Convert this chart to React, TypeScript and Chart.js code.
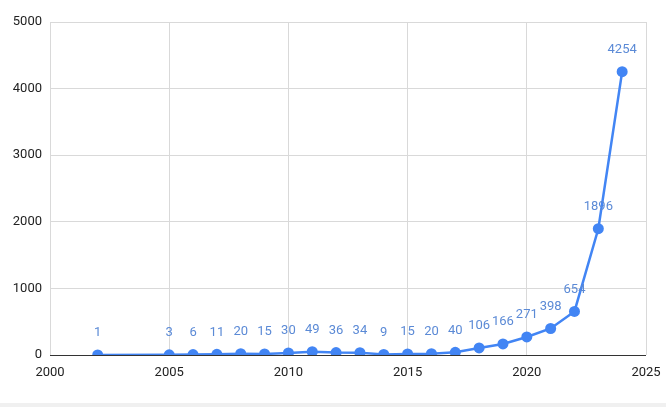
import React, { useEffect, useRef } from "react";
import { Chart, registerables } from "chart.js";

Chart.register(...registerables);

const years = [2002, 2005, 2006, 2007, 2008, 2009, 2010, 2011, 2012, 2013, 2014, 2015, 2016, 2017, 2018, 2019, 2020, 2021, 2022, 2023, 2024];
const counts = [1, 3, 6, 11, 20, 15, 30, 49, 36, 34, 9, 15, 20, 40, 106, 166, 271, 398, 654, 1896, 4254];
const xTicks = [2000, 2005, 2010, 2015, 2020, 2025];
const yTicks = [0, 1000, 2000, 3000, 4000, 5000];

const FONT = "Roboto, Arial, sans-serif";
const BLUE = "#4285f4";
const LABEL_BLUE = "#5b8ad6";

const dataLabels = {
  id: "dataLabels",
  afterDatasetsDraw(chart: any) {
    const ctx = chart.ctx;
    const meta = chart.getDatasetMeta(0);
    ctx.save();
    ctx.font = `13px ${FONT}`;
    ctx.fillStyle = LABEL_BLUE;
    ctx.textAlign = "center";
    ctx.textBaseline = "middle";
    meta.data.forEach((pt: any, i: number) => {
      ctx.fillText(String(counts[i]), pt.x, pt.y - 22);
    });
    ctx.restore();
  },
};

export default function App() {
  const ref = useRef<HTMLCanvasElement>(null);
  useEffect(() => {
    if (!ref.current) return;
    const chart = new Chart(ref.current, {
      type: "line",
      data: {
        datasets: [
          {
            data: years.map((y, i) => ({ x: y, y: counts[i] })),
            borderColor: BLUE,
            backgroundColor: BLUE,
            borderWidth: 2.5,
            pointRadius: 5.5,
            pointHoverRadius: 5.5,
            pointBorderWidth: 0,
            tension: 0,
          },
        ],
      },
      options: {
        responsive: false,
        animation: false,
        layout: { padding: { top: 22, right: 20, left: 0, bottom: 0 } },
        plugins: { legend: { display: false }, tooltip: { enabled: false } },
        scales: {
          x: {
            type: "linear",
            min: 2000,
            max: 2025,
            afterBuildTicks: (s: any) => {
              s.ticks = xTicks.map((v) => ({ value: v }));
            },
            afterFit: (s: any) => {
              s.height = 48;
              s.paddingLeft = 0;
              s.paddingRight = 0;
            },
            ticks: {
              font: { family: FONT, size: 13 },
              color: "#222",
              padding: 10,
              maxRotation: 0,
              callback: (v: any) => String(v),
            },
            grid: {
              color: "#d9d9d9",
              drawTicks: false,
            },
            border: { display: false },
          },
          y: {
            min: 0,
            max: 5000,
            afterBuildTicks: (s: any) => {
              s.ticks = yTicks.map((v) => ({ value: v }));
            },
            afterFit: (s: any) => {
              s.width = 50;
              s.paddingTop = 0;
              s.paddingBottom = 0;
            },
            ticks: {
              font: { family: FONT, size: 13 },
              color: "#222",
              padding: 8,
              callback: (v: any) => String(v),
            },
            grid: {
              color: (c: any) => (c.tick && c.tick.value === 0 ? "#333" : "#d9d9d9"),
              drawTicks: false,
            },
            border: { display: false },
          },
        },
      },
      plugins: [dataLabels],
    });
    return () => chart.destroy();
  }, []);
  return (
    <div style={{ position: "absolute", left: 0, top: 0, width: 666, height: 407, background: "#fff" }}>
      <canvas ref={ref} width={666} height={403} style={{ display: "block" }} />
      <div style={{ position: "absolute", left: 0, top: 403, width: 666, height: 4, background: "#f0f0f0" }} />
    </div>
  );
}
